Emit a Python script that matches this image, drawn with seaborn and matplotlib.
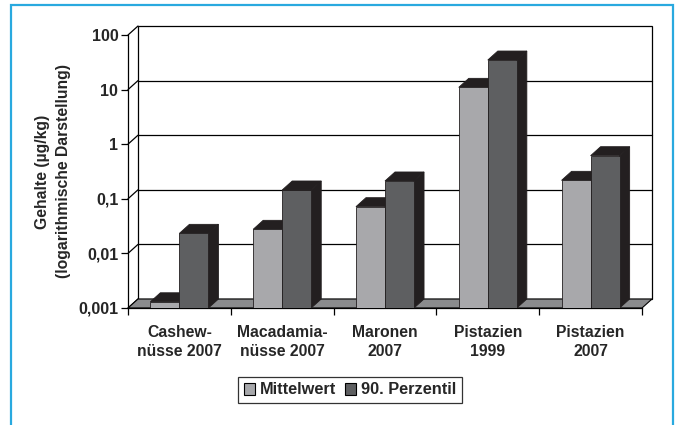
import numpy as np
import pandas as pd
import seaborn as sns
import matplotlib.pyplot as plt
from matplotlib.patches import Polygon, Rectangle, Patch
from matplotlib.transforms import IdentityTransform
from matplotlib.colors import to_hex
from matplotlib.ticker import NullLocator

categories = ['Cashew-\nnüsse 2007', 'Macadamia-\nnüsse 2007', 'Maronen\n2007',
              'Pistazien\n1999', 'Pistazien\n2007']
mittelwert = [0.0013, 0.0276, 0.0717, 11.0, 0.218]
perzentil90 = [0.0233, 0.145, 0.212, 34.8, 0.616]
series = ['Mittelwert', '90. Perzentil']
y_ticks = [0.001, 0.01, 0.1, 1, 10, 100]
y_labels = ['0,001', '0,01', '0,1', '1', '10', '100']

df = pd.DataFrame({
    'Sorte': categories * 2,
    'Wert': mittelwert + perzentil90,
    'Reihe': [series[0]] * len(categories) + [series[1]] * len(categories),
})

light = '#a7a8ab'
light_top = '#808184'
dark = '#5e5f61'
dark_top = '#231f20'
floor_col = '#8a8b8d'
edge = '#231f20'

sns.set_style('white')
plt.rcParams['font.family'] = ['Liberation Sans', 'DejaVu Sans']
plt.rcParams['font.weight'] = 'bold'

fig = plt.figure(figsize=(6.76, 4.25), dpi=100)
ax = fig.add_axes([128 / 676, 117 / 425, 514 / 676, 273 / 425])
ax.set_yscale('log')
ax.set_facecolor('none')

sns.barplot(data=df, x='Sorte', y='Wert', hue='Reihe', palette=[light, dark],
            width=0.565, errorbar=None, legend=False, edgecolor=edge,
            linewidth=0.6, zorder=4, ax=ax)

ax.set_xlim(-0.5, len(categories) - 0.5)
ax.set_ylim(y_ticks[0], y_ticks[-1])

# depth of the pseudo 3d chart in pixels
DX, DY = 10, 9
ident = IdentityTransform()

xl, yb = ax.transData.transform((-0.5, y_ticks[0]))
xr, yt = ax.transData.transform((len(categories) - 0.5, y_ticks[-1]))

# back wall with gridlines
ax.add_patch(Rectangle((xl + DX, yb + DY), xr - xl, yt - yb, transform=ident,
                       facecolor='white', edgecolor='black', lw=0.9,
                       zorder=0.5, clip_on=False))
for v in y_ticks:
    _, yv = ax.transData.transform((0, v))
    if v not in (y_ticks[0], y_ticks[-1]):
        ax.plot([xl + DX, xr + DX], [yv + DY, yv + DY], color='black', lw=0.9,
                transform=ident, zorder=1, clip_on=False)
    ax.plot([xl, xl + DX], [yv, yv + DY], color='black', lw=0.9,
            transform=ident, zorder=1, clip_on=False)

# floor
ax.add_patch(Polygon([(xl, yb), (xr, yb), (xr + DX, yb + DY), (xl + DX, yb + DY)],
                     closed=True, transform=ident, facecolor=floor_col,
                     edgecolor='black', lw=0.8, zorder=2, clip_on=False))

# side and top faces of the bars
for p in list(ax.patches):
    if not isinstance(p, Rectangle) or p.get_zorder() != 4:
        continue
    is_light = to_hex(p.get_facecolor()) == light
    top_col = light_top if is_light else dark_top
    x0, x1 = p.get_x(), p.get_x() + p.get_width()
    X0, Y0 = ax.transData.transform((x0, y_ticks[0]))
    X1, Y1 = ax.transData.transform((x1, p.get_y() + p.get_height()))
    side = Polygon([(X1, Y0), (X1, Y1), (X1 + DX, Y1 + DY), (X1 + DX, Y0 + DY)],
                   closed=True, transform=ident, facecolor=dark_top,
                   edgecolor=edge, lw=0.6, zorder=3, clip_on=False)
    top = Polygon([(X0, Y1), (X1, Y1), (X1 + DX, Y1 + DY), (X0 + DX, Y1 + DY)],
                  closed=True, transform=ident, facecolor=top_col,
                  edgecolor=edge, lw=0.6, zorder=3, clip_on=False)
    ax.add_patch(side)
    ax.add_patch(top)

ax.set_xlim(-0.5, len(categories) - 0.5)
ax.set_ylim(y_ticks[0], y_ticks[-1])

for s in ['top', 'right']:
    ax.spines[s].set_visible(False)
for s in ['left', 'bottom']:
    ax.spines[s].set_color('black')
    ax.spines[s].set_linewidth(0.9)
    ax.spines[s].set_zorder(2.5)

ax.set_yticks(y_ticks)
ax.set_yticklabels(y_labels)
ax.yaxis.set_minor_locator(NullLocator())
ax.set_xticks(range(len(categories)))
ax.set_xticklabels(categories, linespacing=1.35)
ax.set_xticks(np.arange(-0.5, len(categories)), minor=True)
ax.tick_params(axis='y', which='major', left=True, direction='out', length=5,
               width=0.9, pad=2, labelsize=11.5, color='black')
ax.tick_params(axis='x', which='major', bottom=True, length=0, pad=12,
               labelsize=11.3)
ax.tick_params(axis='x', which='minor', bottom=True, direction='out', length=5,
               width=0.9, color='black')
ax.set_xlabel('')
ax.set_ylabel('Gehalte (µg/kg)\n(logarithmische Darstellung)', fontsize=11.3,
              fontweight='bold', linespacing=1.5, labelpad=5)

handles = [Patch(facecolor=light, edgecolor='black', lw=0.8),
           Patch(facecolor=dark, edgecolor='black', lw=0.8)]
leg = fig.legend(handles=handles, labels=series, loc='center',
                 bbox_to_anchor=(350 / 676, 1 - 390 / 425), ncol=2,
                 frameon=True, fancybox=False, edgecolor='black', fontsize=11.8,
                 handlelength=0.7, handleheight=0.7, handletextpad=0.3,
                 columnspacing=0.5, borderpad=0.35, borderaxespad=0)
leg.get_frame().set_linewidth(0.9)

fig.add_artist(Rectangle((11 / 676, -0.05), (673 - 11) / 676, 1 - 5 / 425 + 0.05,
                         transform=fig.transFigure, fill=False,
                         edgecolor='#29a9df', linewidth=1.6))

fig.savefig('out.png', dpi=100)
